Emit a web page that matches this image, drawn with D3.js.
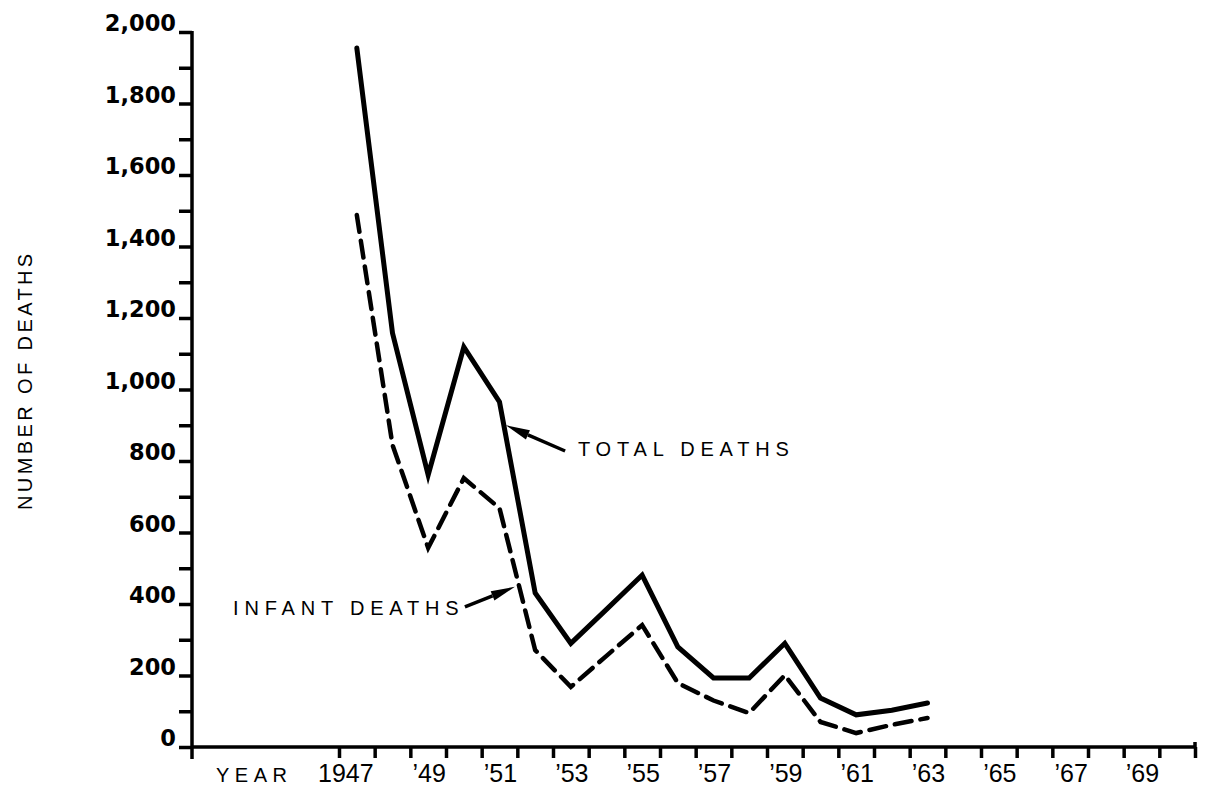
<!DOCTYPE html>
<html lang="en">
<head>
<meta charset="UTF-8">
<script src="https://d3js.org/d3.v7.min.js"></script>
<title>Deaths</title>
<style>
    body { margin: 0; background: #fff; }
    .axis path, .axis line { stroke: #000; stroke-width: 3.5px; }
    .ylab { font-family: "DejaVu Sans", sans-serif; font-weight: bold; font-size: 22.5px; }
    .xlab { font-family: "Liberation Sans", Arial, sans-serif; font-size: 25px; }
    .spaced { font-family: "Liberation Sans", Arial, sans-serif; font-size: 20px; letter-spacing: 5.8px; }
</style>
</head>
<body>
<div id="chart"></div>
<script>
    // data
    var years = [1947, 1948, 1949, 1950, 1951, 1952, 1953, 1954, 1955, 1956, 1957, 1958, 1959, 1960, 1961, 1962, 1963];
    var totalDeaths = [1955, 1158, 761, 1119, 965, 431, 290, 385, 481, 280, 193, 193, 290, 137, 90, 103, 123];
    var infantDeaths = [1488, 845, 557, 752, 668, 271, 168, 255, 341, 179, 130, 95, 201, 70, 39, 62, 81];

    var labelYears = [1947, 1949, 1951, 1953, 1955, 1957, 1959, 1961, 1963, 1965, 1967, 1969];
    var yearLabels = ["1947", "’49", "’51", "’53", "’55", "’57", "’59", "’61", "’63", "’65", "’67", "’69"];
    var yTicks = [0, 200, 400, 600, 800, 1000, 1200, 1400, 1600, 1800, 2000];

    // annotations: [label, text year, text value, tail year, tail value, tip year, tip value]
    var notes = [
        ["TOTAL DEATHS", 1953.2, 814, 1952.84, 828, 1951.18, 900],
        ["INFANT DEATHS", 1943.53, 369, 1950.03, 392, 1951.43, 448]
    ];

    var svg = d3.select("#chart")
        .append("svg")
        .attr("width", 1207)
        .attr("height", 788);

    var x = d3.scaleLinear()
        .domain([1946.5, 1970.5])
        .range([339, 1195]);

    var y = d3.scaleLinear()
        .domain([0, 2000])
        .range([747, 32]);

    var axisLeftX = 192;

    // y axis with a tick every 100
    var yAxis = d3.axisLeft(y)
        .tickValues(d3.range(0, 2001, 100))
        .tickSize(13)
        .tickSizeOuter(0)
        .tickFormat(function (d) { return yTicks.indexOf(d) >= 0 ? d3.format(",")(d) : ""; });

    var gy = svg.append("g")
        .attr("class", "axis")
        .attr("transform", "translate(" + axisLeftX + ",0)")
        .call(yAxis);
    gy.select(".domain").remove();
    gy.selectAll("text")
        .attr("class", "ylab")
        .attr("x", -16)
        .attr("dy", "-0.05em")
        .attr("fill", "#000");
    gy.append("line")
        .attr("x1", 0).attr("x2", 0)
        .attr("y1", y(2000) - 1).attr("y2", y(0) + 12);

    // x axis, ticks between the years
    var xAxis = d3.axisBottom(x)
        .tickValues(d3.range(1946.5, 1971, 1))
        .tickSize(11)
        .tickSizeOuter(0)
        .tickFormat("");

    var gx = svg.append("g")
        .attr("class", "axis")
        .attr("transform", "translate(0," + y(0) + ")")
        .call(xAxis);
    gx.select(".domain").remove();
    gx.append("line")
        .attr("x1", axisLeftX).attr("x2", x(1970.5) + 1)
        .attr("y1", 0).attr("y2", 0);
    gx.append("line")
        .attr("x1", x(1970.5)).attr("x2", x(1970.5))
        .attr("y1", -5).attr("y2", 0);

    svg.selectAll(".xlab")
        .data(labelYears)
        .enter().append("text")
        .attr("class", "xlab")
        .attr("x", function (d, i) { return x(d) + (i === 0 ? -11 : 1); })
        .attr("y", 782)
        .attr("text-anchor", "middle")
        .text(function (d, i) { return yearLabels[i]; });

    svg.append("text")
        .attr("class", "spaced")
        .attr("x", 216)
        .attr("y", 782)
        .style("letter-spacing", "5.5px")
        .text("YEAR");

    svg.append("text")
        .attr("class", "spaced")
        .attr("transform", "translate(32,510) rotate(-90)")
        .style("letter-spacing", "3.4px")
        .text("NUMBER OF DEATHS");

    // lines
    var line = function (vals) {
        return d3.line()
            .x(function (d, i) { return x(years[i]); })
            .y(function (d) { return y(d); })(vals);
    };

    svg.append("path")
        .attr("d", line(totalDeaths))
        .attr("fill", "none")
        .attr("stroke", "#000")
        .attr("stroke-width", 5)
        .attr("stroke-linejoin", "miter")
        .attr("stroke-linecap", "round");

    svg.append("path")
        .attr("d", line(infantDeaths))
        .attr("fill", "none")
        .attr("stroke", "#000")
        .attr("stroke-width", 4.5)
        .attr("stroke-dasharray", "17,9")
        .attr("stroke-linecap", "round");

    // labels with arrows
    notes.forEach(function (n) {
        svg.append("text")
            .attr("class", "spaced")
            .attr("x", x(n[1]))
            .attr("y", y(n[2]))
            .text(n[0]);

        var x0 = x(n[3]), y0 = y(n[4]), x1 = x(n[5]), y1 = y(n[6]);
        var ang = Math.atan2(y1 - y0, x1 - x0);
        var len = 24, half = 5;
        var bx = x1 - len * Math.cos(ang), by = y1 - len * Math.sin(ang);
        svg.append("line")
            .attr("x1", x0).attr("y1", y0)
            .attr("x2", bx).attr("y2", by)
            .attr("stroke", "#000")
            .attr("stroke-width", 3.5);
        svg.append("path")
            .attr("d", d3.line()([
                [x1, y1],
                [bx - half * Math.sin(ang), by + half * Math.cos(ang)],
                [bx + half * Math.sin(ang), by - half * Math.cos(ang)]
            ]) + "Z")
            .attr("fill", "#000");
    });
</script>
</body>
</html>
